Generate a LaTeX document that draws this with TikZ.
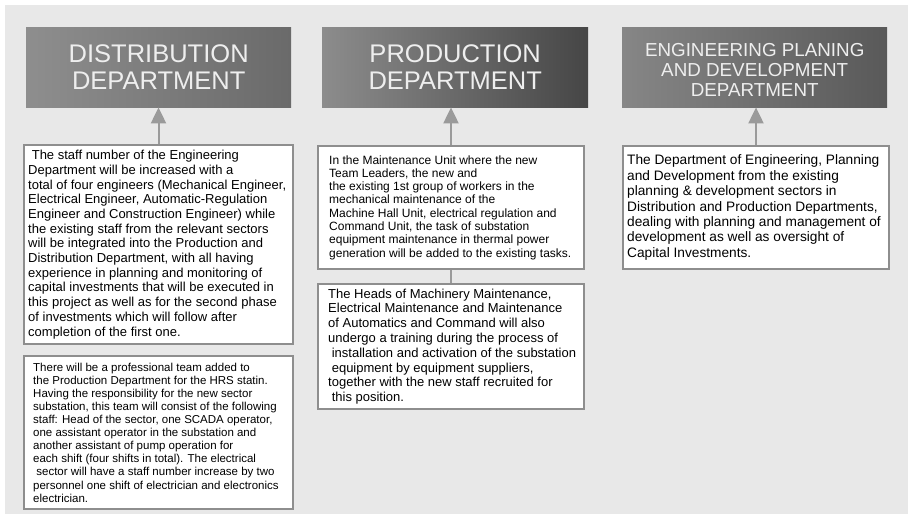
\documentclass[tikz,border=0pt]{standalone}
\usepackage{fontspec}
\setmainfont{Liberation Sans}
\usetikzlibrary{arrows.meta, positioning}
\definecolor{bggray}{HTML}{E8E8E8}
\definecolor{framegray}{HTML}{8E8E8E}
\definecolor{arrowgray}{HTML}{9A9A9A}
\definecolor{headtext}{HTML}{EEEEEE}
\definecolor{distleft}{HTML}{8E8E8E}
\definecolor{distright}{HTML}{6A6A6A}
\definecolor{prodleft}{HTML}{8C8C8C}
\definecolor{prodright}{HTML}{464646}
\definecolor{engleft}{HTML}{868686}
\definecolor{engright}{HTML}{595959}

\begin{document}
\begin{tikzpicture}[x=1pt, y=-1pt,
    dept/.style={rectangle, minimum height=80pt, align=center, text=headtext, anchor=north west, inner sep=0pt},
    txtframe/.style={rectangle, draw=framegray, line width=2pt, fill=white, anchor=north west, inner sep=0pt},
    bodytext/.style={align=left, anchor=west, inner sep=0pt},
    link/.style={draw=arrowgray, line width=2pt},
    arrow/.style={link, -{Triangle[length=16pt, width=15pt]}}
]

% Background
\fill[white] (0,0) rectangle (908,514);
\fill[bggray] (5,5) rectangle (908,514);
\useasboundingbox (0,0) rectangle (908,514);

% Departments
\node[dept, minimum width=265pt, left color=distleft, right color=distright, font=\fontsize{25.5}{27}\selectfont] (disthead) at (26,27) {DISTRIBUTION\\DEPARTMENT};
\node[dept, minimum width=266pt, left color=prodleft, right color=prodright, font=\fontsize{25.5}{27}\selectfont] (prodhead) at (322,27) {PRODUCTION\\DEPARTMENT};
\node[dept, minimum width=265pt, left color=engleft, right color=engright] (enghead) at (622,27) {};
\node[align=center, text=headtext, inner sep=0pt, font=\fontsize{18.8}{20}\selectfont] (engheadtxt) at ([yshift=-3pt]enghead.center) {ENGINEERING PLANING\\AND DEVELOPMENT\\DEPARTMENT};

% Frames
\node[txtframe, minimum width=269pt, minimum height=199pt] (distA) at (23,144) {};
\node[txtframe, minimum width=269pt, minimum height=153pt] (distB) at (23,355) {};
\node[txtframe, minimum width=266pt, minimum height=123pt] (prodA) at (317,145) {};
\node[txtframe, minimum width=266pt, minimum height=125pt] (prodB) at (317,283) {};
\node[txtframe, minimum width=266pt, minimum height=123pt] (engA) at (622,145) {};

% Distribution texts
\node[bodytext, font=\fontsize{13}{14.7}\selectfont] (distAtxt) at ([xshift=5pt]distA.west) {%
~The staff number of the Engineering\\
Department will be increased with a\\
total of four engineers (Mechanical Engineer,\\
Electrical Engineer, Automatic-Regulation\\
Engineer and Construction Engineer) while\\
the existing staff from the relevant sectors\\
will be integrated into the Production and\\
Distribution Department, with all having\\
experience in planning and monitoring of\\
capital investments that will be executed in\\
this project as well as for the second phase\\
of investments which will follow after\\
completion of the first one.};
\node[bodytext, font=\fontsize{11.5}{13.1}\selectfont] (distBtxt) at ([xshift=10pt]distB.west) {%
There will be a professional team added to\\
the Production Department for the HRS statin.\\
Having the responsibility for the new sector\\
substation, this team will consist of the following\\
staff: Head of the sector, one SCADA operator,\\
one assistant operator in the substation and\\
another assistant of pump operation for\\
each shift (four shifts in total). The electrical\\
~sector will have a staff number increase by two\\
personnel one shift of electrician and electronics\\
electrician.};

% Production texts
\node[bodytext, font=\fontsize{12}{13.3}\selectfont] (prodAtxt) at ([xshift=12pt]prodA.west) {%
In the Maintenance Unit where the new\\
Team Leaders, the new and\\
the existing 1st group of workers in the\\
mechanical maintenance of the\\
Machine Hall Unit, electrical regulation and\\
Command Unit, the task of substation\\
equipment maintenance in thermal power\\
generation will be added to the existing tasks.};
\node[bodytext, font=\fontsize{13}{14.8}\selectfont] (prodBtxt) at ([xshift=11pt]prodB.west) {%
The Heads of Machinery Maintenance,\\
Electrical Maintenance and Maintenance\\
of Automatics and Command will also\\
undergo a training during the process of\\
~installation and activation of the substation\\
~equipment by equipment suppliers,\\
together with the new staff recruited for\\
~this position.};

% Engineering text
\node[bodytext, font=\fontsize{13.7}{15.4}\selectfont] (engAtxt) at ([xshift=5pt]engA.west) {%
The Department of Engineering, Planning\\
and Development from the existing\\
planning \& development sectors in\\
Distribution and Production Departments,\\
dealing with planning and management of\\
development as well as oversight of\\
Capital Investments.};

% Connectors
\draw[arrow] (distA.north) -- (distA.north |- disthead.south);
\draw[arrow] (prodA.north) -- (prodA.north |- prodhead.south);
\draw[link] (prodA.south) -- (prodB.north);
\draw[arrow] (engA.north) -- (engA.north |- enghead.south);

\end{tikzpicture}
\end{document}
